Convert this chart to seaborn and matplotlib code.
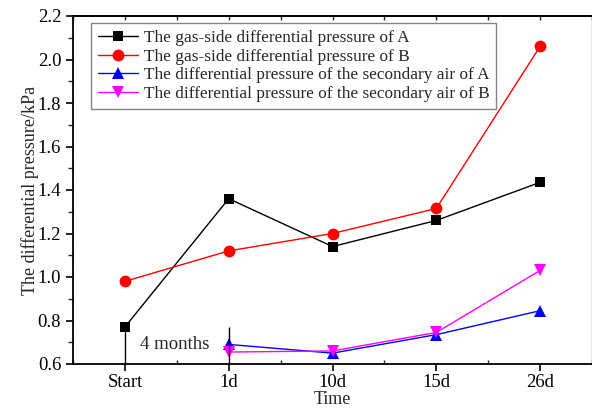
import matplotlib
matplotlib.use("Agg")
import matplotlib.pyplot as plt
from matplotlib.ticker import MultipleLocator
import seaborn as sns
import numpy as np

times = ["Start", "1d", "10d", "15d", "26d"]
gas_A = [0.77, 1.36, 1.14, 1.26, 1.435]
gas_B = [0.98, 1.12, 1.20, 1.315, 2.06]
air_A = [np.nan, 0.69, 0.65, 0.735, 0.845]
air_B = [np.nan, 0.655, 0.66, 0.745, 1.03]

labels = ["The gas-side differential pressure of A",
          "The gas-side differential pressure of B",
          "The differential pressure of the secondary air of A",
          "The differential pressure of the secondary air of B"]

# break marks ("4 months") at Start and 1d
break_x = [0, 1]
break_top = [0.77, 0.77]

sns.set_style("ticks")
plt.rcParams['font.family'] = ['Liberation Serif', 'DejaVu Serif']

fig = plt.figure(figsize=(5.92, 4.08), dpi=100)
ax = fig.add_axes([73/592, 44/408, 519/592, 348/408])

xpos = np.arange(len(times))
series = [gas_A, gas_B, air_A, air_B]
colors = ["black", "red", "blue", "magenta"]
markers = ["s", "o", "^", "v"]
msizes = [7.5, 8.5, 9, 9]

for vals, c, m, ms, lab in zip(series, colors, markers, msizes, labels):
    sns.lineplot(x=xpos, y=vals, ax=ax, color=c, marker=m, markersize=ms,
                 markeredgewidth=0, linewidth=1, label=lab, sort=False)

ax.vlines(break_x, 0.6, break_top, color="black", linewidth=1, zorder=5)
ax.text(0.48, 0.69, "4 months", fontsize=13.5, ha="center", va="center")

ax.set_xlim(-0.5, 4.5)
ax.set_ylim(0.6, 2.2)
ax.set_xticks(xpos)
ax.set_xticklabels(times)
ax.xaxis.set_minor_locator(MultipleLocator(0.5))
ax.yaxis.set_major_locator(MultipleLocator(0.2))
ax.yaxis.set_minor_locator(MultipleLocator(0.1))
ax.yaxis.set_major_formatter(matplotlib.ticker.FormatStrFormatter("%.1f"))
ax.tick_params(axis="both", which="major", direction="out", length=5, width=1.2,
               labelsize=13.5, colors="black")
ax.tick_params(axis="x", which="major", pad=2)
ax.tick_params(axis="y", which="minor", direction="out", length=3.5, width=1)
ax.tick_params(axis="x", which="minor", direction="in", length=3, width=1)

# short inward ticks along the top spine
top = ax.secondary_xaxis("top")
top.set_xticks(np.arange(-0.5, 4.6, 0.5))
top.tick_params(direction="in", length=3, width=1, labeltop=False)
top.spines["top"].set_linewidth(1.3)

for s in ["left", "bottom", "top"]:
    ax.spines[s].set_color("black")
    ax.spines[s].set_linewidth(1.3)
ax.spines["right"].set_visible(True)
ax.spines["right"].set_color("#999999")
ax.spines["right"].set_linewidth(1)

ax.set_xlabel("Time", fontsize=13)
ax.xaxis.set_label_coords(0.5, -0.078)
ax.set_ylabel("The differential pressure/kPa", fontsize=13, labelpad=-1)

leg = ax.legend(loc="upper left", bbox_to_anchor=(0.035, 0.98), fontsize=12.4,
                frameon=True, fancybox=False, edgecolor="#666666",
                borderpad=0.4, labelspacing=0.15, handlelength=2.3,
                handletextpad=0.35, borderaxespad=0)
leg.get_frame().set_linewidth(1)

fig.savefig("out.png", dpi=100)
